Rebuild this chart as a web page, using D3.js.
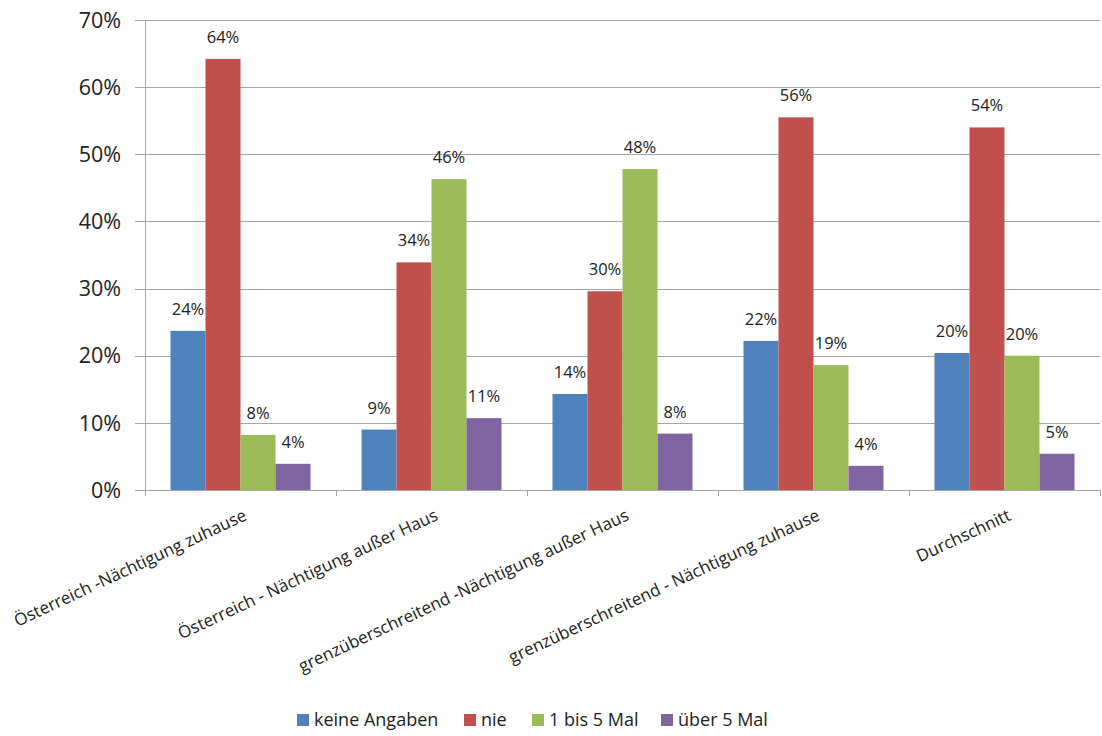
<!DOCTYPE html>
<html>
<head>
<meta charset="utf-8">
<title>Nächtigungen</title>
<script src="https://d3js.org/d3.v7.min.js"></script>
<style>
  body { margin: 0; background: #fff; }
  svg text { font-family: "Open Sans", "Noto Sans", sans-serif; fill: #222; }
</style>
</head>
<body>
<svg width="1102" height="736"></svg>
<script>
// categories and series
var categories = [
  "Österreich -Nächtigung zuhause",
  "Österreich - Nächtigung außer Haus",
  "grenzüberschreitend -Nächtigung außer Haus",
  "grenzüberschreitend - Nächtigung zuhause",
  "Durchschnitt"
];
var seriesNames = ["keine Angaben", "nie", "1 bis 5 Mal", "über 5 Mal"];
var seriesColors = ["#4F81BD", "#C0504D", "#9BBB59", "#8064A2"];

// values in percent, one array per series
var keineAngaben = [23.7, 9.0, 14.3, 22.2, 20.4];
var nie          = [64.2, 33.9, 29.6, 55.5, 54.0];
var bis5         = [8.2, 46.3, 47.8, 18.6, 20.0];
var ueber5       = [3.9, 10.7, 8.4, 3.6, 5.4];

var yTicks = [0, 10, 20, 30, 40, 50, 60, 70];

var values = [keineAngaben, nie, bis5, ueber5];

var svg = d3.select("svg");
var plotLeft = 145, plotRight = 1100, plotTop = 20, plotBottom = 490;

var x0 = d3.scaleBand().domain(categories).range([plotLeft, plotRight]);
var groupPad = 25.5;
var x1 = d3.scaleBand().domain(seriesNames)
    .range([groupPad, x0.bandwidth() - groupPad]);
var y = d3.scaleLinear().domain([0, 70]).range([plotBottom, plotTop]);

// gridlines
svg.append("g")
  .selectAll("line")
  .data(yTicks)
  .enter().append("line")
    .attr("x1", plotLeft - 10)
    .attr("x2", plotRight)
    .attr("y1", function(d) { return Math.round(y(d)) + 0.5; })
    .attr("y2", function(d) { return Math.round(y(d)) + 0.5; })
    .style("stroke", "#a6a6a6")
    .style("stroke-width", 1);

// y labels
svg.append("g")
  .selectAll("text")
  .data(yTicks)
  .enter().append("text")
    .attr("x", 121)
    .attr("y", function(d) { return y(d); })
    .attr("dy", "0.36em")
    .attr("text-anchor", "end")
    .style("font-size", "21.5px")
    .text(function(d) { return d + "%"; });

// y axis line
svg.append("line")
  .attr("x1", plotLeft + 0.5).attr("x2", plotLeft + 0.5)
  .attr("y1", plotTop).attr("y2", plotBottom)
  .style("stroke", "#a6a6a6");

// x ticks at category boundaries
var bounds = categories.map(function(c) { return x0(c); }).concat([plotRight]);
svg.append("g")
  .selectAll("line")
  .data(bounds)
  .enter().append("line")
    .attr("x1", function(d) { return Math.round(d) + 0.5; })
    .attr("x2", function(d) { return Math.round(d) + 0.5; })
    .attr("y1", plotBottom)
    .attr("y2", plotBottom + 6)
    .style("stroke", "#a6a6a6");

// bars
var groups = svg.append("g")
  .selectAll("g")
  .data(categories)
  .enter().append("g")
    .attr("transform", function(c) { return "translate(" + x0(c) + ",0)"; });

groups.selectAll("rect")
  .data(function(c, i) {
    return seriesNames.map(function(s, j) { return { s: s, v: values[j][i], color: seriesColors[j] }; });
  })
  .enter().append("rect")
    .attr("x", function(d) { return x1(d.s); })
    .attr("width", x1.bandwidth())
    .attr("y", function(d) { return y(d.v); })
    .attr("height", function(d) { return plotBottom - y(d.v); })
    .style("fill", function(d) { return d.color; });

groups.selectAll("text")
  .data(function(c, i) {
    return seriesNames.map(function(s, j) { return { s: s, v: values[j][i] }; });
  })
  .enter().append("text")
    .attr("x", function(d) { return x1(d.s) + x1.bandwidth() / 2; })
    .attr("y", function(d) { return y(d.v) - 16; })
    .attr("text-anchor", "middle")
    .style("font-size", "16.5px")
    .text(function(d) { return Math.round(d.v) + "%"; });

// rotated category labels
svg.append("g")
  .selectAll("text")
  .data(categories)
  .enter().append("text")
    .attr("transform", function(c) {
      return "translate(" + (x0(c) + x0.bandwidth() / 2 + 5) + "," + (plotBottom + 24) + ") rotate(-25)";
    })
    .attr("text-anchor", "end")
    .attr("dy", "0.35em")
    .style("font-size", "17px")
    .text(function(c) { return c; });

// legend
var legendX = [297, 464, 532, 661];
var legend = svg.append("g")
  .selectAll("g")
  .data(seriesNames)
  .enter().append("g")
    .attr("transform", function(d, i) { return "translate(" + legendX[i] + ",720)"; });
legend.append("rect")
  .attr("x", 0).attr("y", -6)
  .attr("width", 12).attr("height", 12)
  .style("fill", function(d, i) { return seriesColors[i]; });
legend.append("text")
  .attr("x", 17)
  .attr("dy", "0.36em")
  .style("font-size", "18px")
  .text(function(d) { return d; });
</script>
</body>
</html>
